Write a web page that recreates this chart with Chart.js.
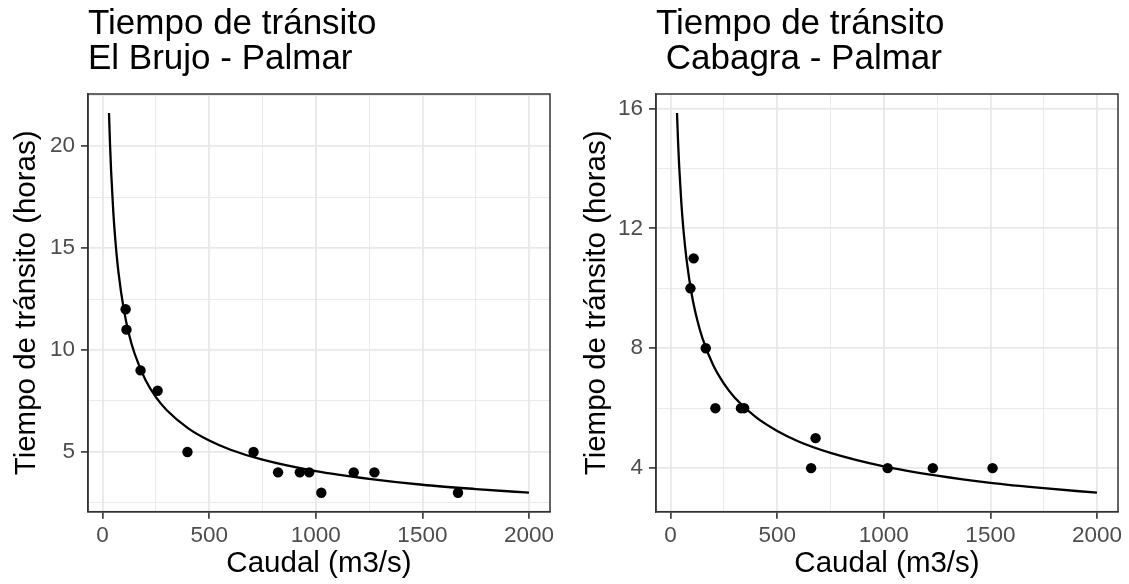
<!DOCTYPE html>
<html><head><meta charset="utf-8">
<script src="https://cdn.jsdelivr.net/npm/chart.js@4"></script>
<style>
html,body{margin:0;padding:0;background:#fff;width:1129px;height:584px;overflow:hidden}
#c1{position:absolute;left:0;top:0}
#c2{position:absolute;left:570px;top:0}
</style></head><body>
<canvas id="c1" width="565" height="584"></canvas>
<canvas id="c2" width="559" height="584"></canvas>
<script>
// ---- text ----
const titleBrujo = ['Tiempo de tránsito', 'El Brujo - Palmar'];
const titleCabagra = ['Tiempo de tránsito', ' Cabagra - Palmar'];
const xTitle = 'Caudal (m3/s)';
const yTitle = 'Tiempo de tránsito (horas)';

// ---- observed points ----
const brujoCaudal = [108, 112, 178, 258, 398, 708, 823, 925, 969, 1026, 1178, 1275, 1667];
const brujoTiempo = [12, 11, 9, 8, 5, 5, 4, 4, 4, 3, 4, 4, 3];
const cabagraCaudal = [93, 108, 165, 210, 330, 345, 659, 680, 1018, 1230, 1510];
const cabagraTiempo = [10, 11, 8, 6, 6, 6, 4, 5, 4, 4, 4];

// ---- fitted curves ----
const curveCaudal = [30, 35, 40, 50, 60, 75, 100, 125, 150, 200, 250, 300, 400, 500, 600, 750, 1000, 1250, 1500, 1750, 2000];
const brujoAjuste = [21.63, 20.04, 18.76, 16.80, 15.36, 13.76, 11.96, 10.73, 9.83, 8.56, 7.69, 7.06, 6.17, 5.56, 5.11, 4.62, 4.06, 3.68, 3.39, 3.18, 3.00];
const cabagraAjuste = [15.85, 14.89, 14.10, 12.89, 11.97, 10.95, 9.76, 8.94, 8.32, 7.43, 6.82, 6.36, 5.70, 5.24, 4.89, 4.51, 4.06, 3.75, 3.51, 3.33, 3.18];

// ---- ticks ----
const xMajor = [0, 500, 1000, 1500, 2000];
const xMinor = [250, 750, 1250, 1750];
const brujoYMajor = [5, 10, 15, 20];
const brujoYMinor = [2.5, 7.5, 12.5, 17.5, 22.5];
const cabagraYMajor = [4, 8, 12, 16];
const cabagraYMinor = [6, 10, 14];

const FONT = '"Liberation Sans", Arial, sans-serif';

const framePlugin = {
  id: 'frame',
  afterDraw(chart) {
    const {ctx, chartArea: a} = chart;
    ctx.save();
    ctx.strokeStyle = '#333333';
    ctx.lineWidth = 1.5;
    ctx.strokeRect(a.left, a.top, a.right - a.left, a.bottom - a.top);
    ctx.restore();
  }
};

const titlePlugin = {
  id: 'panelTitle',
  afterDraw(chart, args, opts) {
    const {ctx, chartArea: a} = chart;
    ctx.save();
    ctx.font = opts.size + 'px ' + FONT;
    ctx.fillStyle = '#000';
    ctx.textAlign = 'left';
    ctx.textBaseline = 'alphabetic';
    opts.lines.forEach((t, i) => ctx.fillText(t, a.left + opts.dx, opts.baseline + i * opts.gap));
    ctx.restore();
  }
};

function makeChart(id, title, px, py, cx, cy, yMajor, yMinor, yWidth, padRight) {
  const allX = px.concat(cx), allY = py.concat(cy);
  const xmin = Math.min(...allX), xmax = Math.max(...allX);
  const ymin = Math.min(...allY), ymax = Math.max(...allY);
  const ex = (xmax - xmin) * 0.05, ey = (ymax - ymin) * 0.05;
  const xTicks = xMajor.concat(xMinor).sort((a, b) => a - b);
  const yTicks = yMajor.concat(yMinor).sort((a, b) => a - b);

  const gridFor = (majors) => ({
    color: '#e8e8e8',
    lineWidth: c => (c.tick && majors.includes(c.tick.value)) ? 1.8 : 0.9,
    drawTicks: true,
    tickLength: 7,
    tickWidth: 1.6,
    tickColor: c => (c.tick && majors.includes(c.tick.value)) ? '#333333' : 'rgba(0,0,0,0)'
  });

  return new Chart(document.getElementById(id), {
    type: 'scatter',
    data: {
      datasets: [
        {
          data: px.map((x, i) => ({x, y: py[i]})),
          pointRadius: 5.2,
          pointHoverRadius: 5.2,
          backgroundColor: '#000',
          borderWidth: 0
        },
        {
          data: cx.map((x, i) => ({x, y: cy[i]})),
          showLine: true,
          borderColor: '#000',
          borderWidth: 2.3,
          pointRadius: 0,
          cubicInterpolationMode: 'monotone',
          fill: false
        }
      ]
    },
    options: {
      responsive: false,
      animation: false,
      events: [],
      layout: {padding: {top: 94, right: padRight, left: 0, bottom: 0}},
      plugins: {
        legend: {display: false},
        tooltip: {enabled: false},
        panelTitle: {lines: title, size: 35, dx: 0, baseline: 34, gap: 34.5}
      },
      scales: {
        x: {
          type: 'linear',
          min: xmin - ex,
          max: xmax + ex,
          afterBuildTicks: s => { s.ticks = xTicks.map(v => ({value: v})); },
          afterFit: s => { s.height = 72.3; },
          ticks: {
            autoSkip: false, maxRotation: 0,
            color: '#4d4d4d',
            font: {family: FONT, size: 22.5},
            padding: 4,
            callback: v => xMajor.includes(v) ? String(v) : ''
          },
          grid: gridFor(xMajor),
          border: {display: true, color: '#333333', width: 1.5},
          title: {display: true, text: xTitle, color: '#000', font: {family: FONT, size: 29.5}, padding: {top: 0, bottom: 2}}
        },
        y: {
          type: 'linear',
          min: ymin - ey,
          max: ymax + ey,
          afterBuildTicks: s => { s.ticks = yTicks.map(v => ({value: v})); },
          afterFit: s => { s.width = yWidth; },
          ticks: {
            autoSkip: false,
            color: '#4d4d4d',
            font: {family: FONT, size: 22.5},
            padding: 6,
            callback: v => yMajor.includes(v) ? String(v) : ''
          },
          grid: gridFor(yMajor),
          border: {display: true, color: '#333333', width: 1.5},
          title: {display: true, text: yTitle, color: '#000', font: {family: FONT, size: 29.5}, padding: {top: 9, bottom: 0}}
        }
      }
    },
    plugins: [framePlugin, titlePlugin]
  });
}

makeChart('c1', titleBrujo, brujoCaudal, brujoTiempo, curveCaudal, brujoAjuste, brujoYMajor, brujoYMinor, 88, 15);
makeChart('c2', titleCabagra, cabagraCaudal, cabagraTiempo, curveCaudal, cabagraAjuste, cabagraYMajor, cabagraYMinor, 86, 11);
</script>
</body></html>
